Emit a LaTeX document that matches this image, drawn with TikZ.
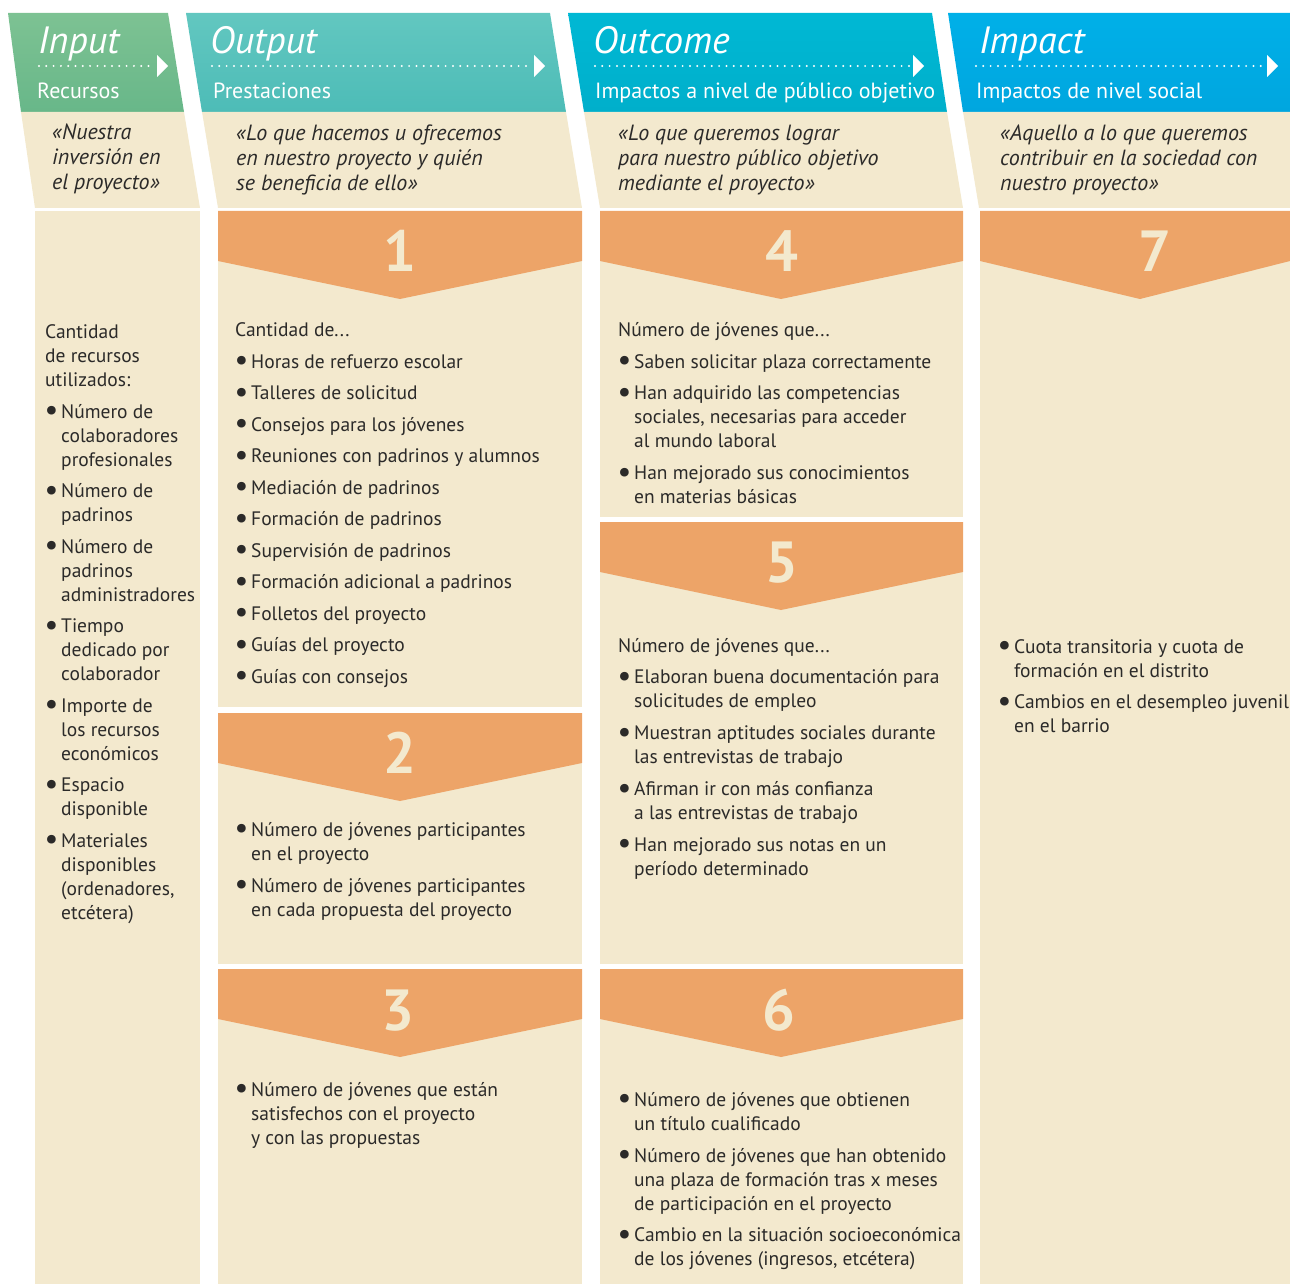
\documentclass[tikz,border=0pt]{standalone}
\usepackage{fontspec}
\setmainfont{PT Sans}
\definecolor{beige}{HTML}{F3E9CE}
\definecolor{chevron}{HTML}{EDA468}
\definecolor{ink}{HTML}{2B2A29}
\definecolor{greenA}{HTML}{7DC293}
\definecolor{greenB}{HTML}{68B789}
\definecolor{tealA}{HTML}{62C7C0}
\definecolor{tealB}{HTML}{4DBCB7}
\definecolor{cyanA}{HTML}{00B8D4}
\definecolor{cyanB}{HTML}{00AFCB}
\definecolor{blueA}{HTML}{00B0E8}
\definecolor{blueB}{HTML}{00A6DF}
\tikzset{
  panel/.style={fill=beige},
  chev/.style={fill=chevron},
  num/.style={inner sep=0pt, text=beige, font=\fontsize{58}{58}\selectfont\bfseries},
  title/.style={anchor=base west, inner sep=0pt, text=white, font=\fontsize{38}{40}\selectfont\itshape},
  sub/.style={anchor=base west, inner sep=0pt, text=white, font=\fontsize{22}{24}\selectfont},
  quote/.style={anchor=north west, inner sep=0pt, align=left, text=ink, font=\fontsize{22}{25}\selectfont\itshape},
  body/.style={anchor=north west, inner sep=0pt, align=left, text=ink, font=\fontsize{19.5}{24}\selectfont},
  dots/.style={white, line width=2.2pt, line cap=round, dash pattern=on 0pt off 7.3pt},
}
\newcommand{\bul}{\makebox[16pt][l]{\raisebox{-1.5pt}{\scalebox{1.45}{\bfseries\textbullet}}}}
\newcommand{\ind}{\hspace*{16pt}}
\newcommand{\bst}{\rule{0pt}{19pt}}
\newcommand{\qst}{\rule{0pt}{21pt}}
\begin{document}
\begin{tikzpicture}[x=1pt,y=-1pt]
\useasboundingbox (0,0) rectangle (1290,1284);
% headers
\shade[top color=greenA, bottom color=greenB] (8,13) -- (168,13) -- (184,112) -- (21,112) -- cycle;
\shade[top color=tealA, bottom color=tealB] (186,13) -- (550,13) -- (566,112) -- (202,112) -- cycle;
\shade[top color=cyanA, bottom color=cyanB] (568,13) -- (932,13) -- (947,112) -- (584,112) -- cycle;
\shade[top color=blueA, bottom color=blueB] (948,13) -- (1290,13) -- (1290,112) -- (963,112) -- cycle;
% quote fields
\fill[panel] (21,112) -- (184,112) -- (200,208) -- (35,208) -- cycle;
\fill[panel] (202,112) -- (566,112) -- (582,208) -- (218,208) -- cycle;
\fill[panel] (584,112) -- (947,112) -- (963,208) -- (600,208) -- cycle;
\fill[panel] (963,112) -- (1290,112) -- (1290,208) -- (979,208) -- cycle;
% body panels
\fill[panel] (35,211) rectangle (200,1284);
\fill[panel] (218,211) rectangle (582,707);
\fill[panel] (218,713) rectangle (582,964);
\fill[panel] (218,969) rectangle (582,1284);
\fill[panel] (600,211) rectangle (963,517);
\fill[panel] (600,522) rectangle (963,964);
\fill[panel] (600,969) rectangle (963,1284);
\fill[panel] (980,211) rectangle (1290,1284);
% chevrons
\fill[chev] (218,211) -- (582,211) -- (582,261) -- (400,299) -- (218,261) -- cycle;
\fill[chev] (218,713) -- (582,713) -- (582,763) -- (400,801) -- (218,763) -- cycle;
\fill[chev] (218,969) -- (582,969) -- (582,1019) -- (400,1057) -- (218,1019) -- cycle;
\fill[chev] (600,211) -- (963,211) -- (963,261) -- (781,299) -- (600,261) -- cycle;
\fill[chev] (600,522) -- (963,522) -- (963,572) -- (781,610) -- (600,572) -- cycle;
\fill[chev] (600,969) -- (963,969) -- (963,1019) -- (781,1057) -- (600,1019) -- cycle;
\fill[chev] (980,211) -- (1290,211) -- (1290,261) -- (1140,299) -- (980,261) -- cycle;
\node[num] (n1) at (400,251) {1};
\node[num] (n2) at (400,753) {2};
\node[num] (n3) at (398,1011) {3};
\node[num] (n4) at (782,251) {4};
\node[num] (n5) at (782,563) {5};
\node[num] (n6) at (779,1010) {6};
\node[num] (n7) at (1155,251) {7};
% header texts
\node[title] (tIn) at (38,54) {Input};
\node[title] (tOut) at (210,54) {Output};
\node[title] (tOc) at (593,54) {Outcome};
\node[title] (tIm) at (979,54) {Impact};
\draw[dots] (39,66) -- (154,66);
\draw[dots] (212,66) -- (532,66);
\draw[dots] (595,66) -- (910,66);
\draw[dots] (976,66) -- (1265,66);
\fill[white] (157,55) -- (168,66) -- (157,77) -- cycle;
\fill[white] (534,55) -- (545,66) -- (534,77) -- cycle;
\fill[white] (913,55) -- (924,66) -- (913,77) -- cycle;
\fill[white] (1267,55) -- (1278,66) -- (1267,77) -- cycle;
\node[sub] (sIn) at (37,99) {Recursos};
\node[sub] (sOut) at (213,99) {Prestaciones};
\node[sub] (sOc) at (595,99) {Impactos a nivel de público objetivo};
\node[sub] (sIm) at (976,99) {Impactos de nivel social};
% quotes
\node[quote] (qIn) at (52,118) {\qst«Nuestra\\inversión en\\el proyecto»};
\node[quote] (qOut) at (236,119) {\qst«Lo que hacemos u ofrecemos\\en nuestro proyecto y quién\\se beneficia de ello»};
\node[quote] (qOc) at (618,119) {\qst«Lo que queremos lograr\\para nuestro público objetivo\\mediante el proyecto»};
\node[quote] (qIm) at (1000,119) {\qst«Aquello a lo que queremos\\contribuir en la sociedad con\\nuestro proyecto»};
% body texts
\node[body] (bIn) at (45,319) {\bst Cantidad\\de recursos\\utilizados:\\[8pt]
\bul Número de\\\ind colaboradores\\\ind profesionales\\[7.5pt]
\bul Número de\\\ind padrinos\\[7.5pt]
\bul Número de\\\ind padrinos\\\ind administradores\\[7.5pt]
\bul Tiempo\\\ind dedicado por\\\ind colaborador\\[7.5pt]
\bul Importe de\\\ind los recursos\\\ind económicos\\[7.5pt]
\bul Espacio\\\ind disponible\\[7.5pt]
\bul Materiales\\\ind disponibles\\\ind (ordenadores,\\\ind etcétera)};
\node[body] (b1) at (235,317) {\bst Cantidad de...\\[8pt]
\bul Horas de refuerzo escolar\\[7.5pt]
\bul Talleres de solicitud\\[7.5pt]
\bul Consejos para los jóvenes\\[7.5pt]
\bul Reuniones con padrinos y alumnos\\[7.5pt]
\bul Mediación de padrinos\\[7.5pt]
\bul Formación de padrinos\\[7.5pt]
\bul Supervisión de padrinos\\[7.5pt]
\bul Formación adicional a padrinos\\[7.5pt]
\bul Folletos del proyecto\\[7.5pt]
\bul Guías del proyecto\\[7.5pt]
\bul Guías con consejos};
\node[body] (b2) at (235,817) {\bst\bul Número de jóvenes participantes\\\ind en el proyecto\\[8pt]
\bul Número de jóvenes participantes\\\ind en cada propuesta del proyecto};
\node[body] (b3) at (235,1077) {\bst\bul Número de jóvenes que están\\\ind satisfechos con el proyecto\\\ind y con las propuestas};
\node[body] (b4) at (618,317) {\bst Número de jóvenes que...\\[8pt]
\bul Saben solicitar plaza correctamente\\[7.5pt]
\bul Han adquirido las competencias\\\ind sociales, necesarias para acceder\\\ind al mundo laboral\\[8pt]
\bul Han mejorado sus conocimientos\\\ind en materias básicas};
\node[body] (b5) at (618,633) {\bst Número de jóvenes que...\\[7.5pt]
\bul Elaboran buena documentación para\\\ind solicitudes de empleo\\[8pt]
\bul Muestran aptitudes sociales durante\\\ind las entrevistas de trabajo\\[8pt]
\bul Afirman ir con más confianza\\\ind a las entrevistas de trabajo\\[7.5pt]
\bul Han mejorado sus notas en un\\\ind período determinado};
\node[body] (b6) at (618,1087) {\bst\bul Número de jóvenes que obtienen\\\ind un título cualificado\\[8pt]
\bul Número de jóvenes que han obtenido\\\ind una plaza de formación tras x meses\\\ind de participación en el proyecto\\[7.5pt]
\bul Cambio en la situación socioeconómica\\\ind de los jóvenes (ingresos, etcétera)};
\node[body] (b7) at (998,634) {\bst\bul Cuota transitoria y cuota de\\\ind formación en el distrito\\[7.5pt]
\bul Cambios en el desempleo juvenil\\\ind en el barrio};
\end{tikzpicture}
\end{document}
